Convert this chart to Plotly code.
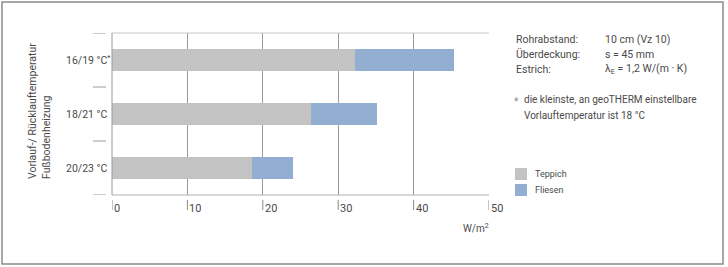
import plotly.graph_objects as go

# ---- data ----
categories = ["16/19 °C", "18/21 °C", "20/23 °C"]
category_labels = ["16/19 °C<sup>*</sup>", "18/21 °C", "20/23 °C"]
teppich = [32.2, 26.4, 18.6]
fliesen = [45.3, 35.1, 24.0]
x_ticks = [0, 10, 20, 30, 40, 50]
series_names = ["Teppich", "Fliesen"]
info_left = ["Rohrabstand:", "Überdeckung:", "Estrich:"]
info_right = ["10 cm (Vz 10)", "s = 45 mm", "λ<sub>E</sub> = 1,2 W/(m · K)"]
footnote = ["die kleinste, an geoTHERM einstellbare", "Vorlauftemperatur ist 18 °C"]
y_title = ["Vorlauf-/ Rücklauftemperatur", "Fußbodenheizung"]
x_unit = "W/m<sup>2</sup>"

W, H = 728, 267
X0, X1, Y0, Y1 = 112, 489, 33, 195

def px(x):
    return (x - X0) / (X1 - X0)

def py(y):
    return (Y1 - y) / (Y1 - Y0)

GRAY = "#c3c3c3"
BLUE = "#92afd1"
TXT = "#4a4a4a"
LINE = "#9a9a9a"
FONT = "Roboto"

fig = go.Figure()
fig.add_trace(go.Bar(y=categories, x=fliesen, orientation="h", name=series_names[1],
                     marker=dict(color=BLUE, line=dict(width=0)), width=0.39, showlegend=False))
fig.add_trace(go.Bar(y=categories, x=teppich, orientation="h", name=series_names[0],
                     marker=dict(color=GRAY, line=dict(width=0)), width=0.39, showlegend=False))

shapes = []
annotations = []

# outer frame
shapes.append(dict(type="rect", xref="paper", yref="paper", x0=px(2), x1=px(723),
                   y0=py(264), y1=py(2), line=dict(color="#8a8a8a", width=1.5)))
# plot frame lines
shapes.append(dict(type="line", xref="paper", yref="paper", x0=0, x1=1, y0=1, y1=1,
                   line=dict(color="#c8c8c8", width=1)))
shapes.append(dict(type="line", xref="paper", yref="paper", x0=0, x1=1, y0=0, y1=0,
                   line=dict(color="#b0b0b0", width=1)))
shapes.append(dict(type="line", xref="paper", yref="paper", x0=0, x1=0, y0=0, y1=1,
                   line=dict(color=LINE, width=1)))

# category separator dashes on the left
for b in [-0.5, 0.5, 1.5, 2.5]:
    shapes.append(dict(type="line", xref="paper", yref="y", x0=px(93), x1=px(106),
                       y0=b, y1=b, line=dict(color=LINE, width=1)))

# x ticks with labels right of the tick
for t in x_ticks:
    shapes.append(dict(type="line", xref="x", yref="paper", x0=t, x1=t,
                       y0=py(200), y1=py(210), line=dict(color="#8a8a8a", width=1)))
    annotations.append(dict(x=t, xref="x", y=py(208), yref="paper", text=str(t),
                            xanchor="left", yanchor="middle", xshift=0, showarrow=False,
                            font=dict(family=FONT, size=11, color=TXT)))

annotations.append(dict(x=px(491), xref="paper", y=py(228), yref="paper", text=x_unit,
                        xanchor="right", yanchor="middle", showarrow=False,
                        font=dict(family=FONT, size=10, color=TXT)))

# category labels
for c, lab in zip(categories, category_labels):
    annotations.append(dict(x=px(64), xref="paper", y=c, yref="y", text=lab,
                            xanchor="left", yanchor="middle", showarrow=False,
                            font=dict(family=FONT, size=10.5, color=TXT)))

# y title (rotated)
for i, t in enumerate(y_title):
    annotations.append(dict(x=px(32 + 14 * i), xref="paper", y=py(181), yref="paper", text=t,
                            textangle=-90, xanchor="center", yanchor="bottom", showarrow=False,
                            font=dict(family=FONT, size=10.5, color=TXT)))

# info block
for i, (a, b) in enumerate(zip(info_left, info_right)):
    yy = py(39 + 15 * i)
    annotations.append(dict(x=px(514), xref="paper", y=yy, yref="paper", text=a,
                            xanchor="left", yanchor="middle", showarrow=False,
                            font=dict(family=FONT, size=10.5, color=TXT)))
    annotations.append(dict(x=px(603), xref="paper", y=yy, yref="paper", text=b,
                            xanchor="left", yanchor="middle", showarrow=False,
                            font=dict(family=FONT, size=10.5, color=TXT)))

annotations.append(dict(x=px(512), xref="paper", y=py(101), yref="paper", text="*",
                        xanchor="left", yanchor="middle", showarrow=False,
                        font=dict(family=FONT, size=10, color="#8a8a8a")))
for i, t in enumerate(footnote):
    annotations.append(dict(x=px(522), xref="paper", y=py(100 + 15 * i), yref="paper", text=t,
                            xanchor="left", yanchor="middle", showarrow=False,
                            font=dict(family=FONT, size=10, color=TXT)))

# legend (drawn manually)
for i, (name, col) in enumerate(zip(series_names, [GRAY, BLUE])):
    top = 168 + 16 * i
    shapes.append(dict(type="rect", xref="paper", yref="paper", x0=px(515), x1=px(527),
                       y0=py(top + 12), y1=py(top), fillcolor=col, line=dict(width=0)))
    annotations.append(dict(x=px(533), xref="paper", y=py(top + 6), yref="paper", text=name,
                            xanchor="left", yanchor="middle", showarrow=False,
                            font=dict(family=FONT, size=9, color=TXT)))

fig.update_layout(
    width=W, height=H, autosize=False,
    margin=dict(l=X0, r=W - X1, t=Y0, b=H - Y1, pad=0),
    paper_bgcolor="white", plot_bgcolor="white",
    barmode="overlay", bargap=0,
    showlegend=False,
    xaxis=dict(range=[0, 50], dtick=10, tick0=0, showgrid=True, gridcolor=LINE, gridwidth=1,
               showticklabels=False, ticks="", zeroline=False, showline=False, fixedrange=True),
    yaxis=dict(type="category", categoryorder="array", categoryarray=categories,
               range=[2.5, -0.5], showgrid=False, showticklabels=False, ticks="",
               zeroline=False, showline=False, fixedrange=True),
    shapes=shapes, annotations=annotations,
    font=dict(family=FONT, color=TXT),
)

fig.write_html("out.html", config={"displayModeBar": False})
